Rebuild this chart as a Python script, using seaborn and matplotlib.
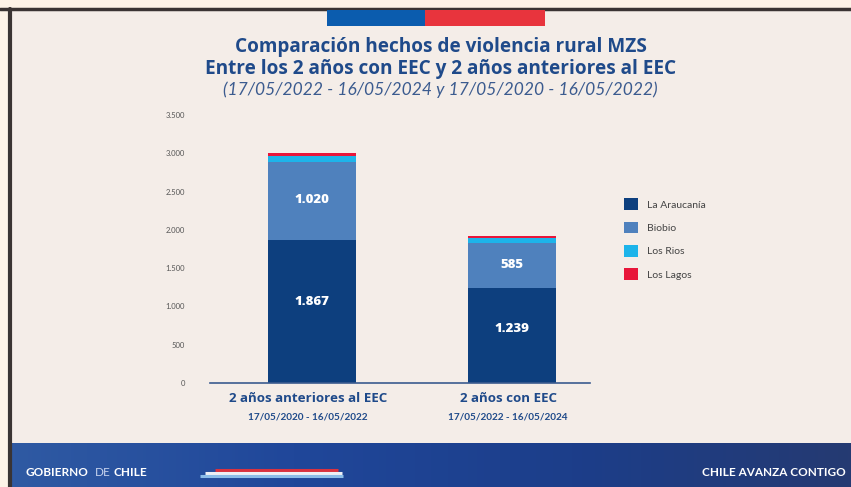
import numpy as np
import pandas as pd
import matplotlib.pyplot as plt
import matplotlib.patches as mpatches
from matplotlib.colors import LinearSegmentedColormap
import seaborn as sns

sns.set_theme(style="white")
plt.rcParams["font.family"] = ["Lato", "DejaVu Sans"]

# data
periods = ["2 años anteriores al EEC", "2 años con EEC"]
period_dates = ["17/05/2020 - 16/05/2022", "17/05/2022 - 16/05/2024"]
regions = ["La Araucanía", "Biobio", "Los Rios", "Los Lagos"]
araucania = [1867, 1239]
biobio = [1020, 585]
los_rios = [82, 65]
los_lagos = [40, 25]
colors = ["#0d3f7e", "#4f81bd", "#1db4ea", "#e8163a"]

W, H = 851, 487
bg = "#f4ede8"
navy = "#1f4a8a"
wide = ["Open Sans", "DejaVu Sans"]

fig = plt.figure(figsize=(W / 100, H / 100), dpi=100)
fig.patch.set_facecolor("#fdf3e7")

# inner panel with dark frame line
fig.add_artist(mpatches.Rectangle((10 / W, 0), 1, (H - 9) / H, transform=fig.transFigure,
                                  facecolor=bg, edgecolor="none", zorder=0))
fig.add_artist(plt.Line2D([0, 1], [(H - 8.5) / H] * 2, transform=fig.transFigure,
                          color="#3a3433", lw=2.5, zorder=1))
fig.add_artist(plt.Line2D([10 / W] * 2, [0, (H - 8.5) / H], transform=fig.transFigure,
                          color="#3a3433", lw=3, zorder=1))

# flag band on top
fig.add_artist(mpatches.Rectangle((327 / W, (H - 26) / H), 98 / W, 16 / H, transform=fig.transFigure,
                                  facecolor="#0b5cae", edgecolor="none"))
fig.add_artist(mpatches.Rectangle((425 / W, (H - 26) / H), 120 / W, 16 / H, transform=fig.transFigure,
                                  facecolor="#e8343d", edgecolor="none"))

# titles
fig.text(441 / W, (H - 47) / H, "Comparación hechos de violencia rural MZS", ha="center", va="center",
         fontsize=13.7, fontweight="bold", color=navy, family=wide)
fig.text(441 / W, (H - 69) / H, "Entre los 2 años con EEC y 2 años anteriores al EEC", ha="center",
         va="center", fontsize=13.7, fontweight="bold", color=navy, family=wide)
fig.text(440 / W, (H - 90) / H, "(17/05/2022 - 16/05/2024 y 17/05/2020 - 16/05/2022)", ha="center",
         va="center", fontsize=12.5, style="italic", color="#3b5b8f")

# chart
ax = fig.add_axes([210 / W, (H - 383) / H, 380 / W, 268 / H])
ax.set_facecolor("none")

df = pd.DataFrame({"periodo": periods, "La Araucanía": araucania, "Biobio": biobio,
                   "Los Rios": los_rios, "Los Lagos": los_lagos})
cum = df[regions].cumsum(axis=1)

# draw from the top layer down so each lower layer covers the previous one
for reg, col in reversed(list(zip(regions, colors))):
    sns.barplot(x=df["periodo"], y=cum[reg], color=col, width=0.44, ax=ax,
                saturation=1, edgecolor="none", linewidth=0)

for i in range(len(periods)):
    ax.text(i, araucania[i] * 0.57, f"{araucania[i]:,}".replace(",", "."), ha="center",
            va="center", color="white", fontsize=9.5, fontweight="heavy", family=wide)
    ax.text(i, araucania[i] + biobio[i] / 2 + 10, f"{biobio[i]:,}".replace(",", "."), ha="center",
            va="center", color="white", fontsize=9.5, fontweight="heavy", family=wide)

ax.set_xlim(-0.51, 1.39)
ax.set_ylim(0, 3500)
yt = np.arange(0, 3501, 500)
ax.set_yticks(yt)
ax.set_yticklabels([f"{v:,}".replace(",", ".") for v in yt], fontsize=5.5, color="#555555")
ax.set_xticks([0, 1])
ax.set_xticklabels([])
ax.tick_params(axis="both", length=0, pad=18)
for s in ["top", "right", "left"]:
    ax.spines[s].set_visible(False)
ax.spines["bottom"].set_color("#3b5b8f")
ax.spines["bottom"].set_linewidth(1.2)
ax.set_xlabel("")
ax.set_ylabel("")

for i, (p, d) in enumerate(zip(periods, period_dates)):
    ax.text(i - 0.02, -0.057, p, transform=ax.get_xaxis_transform(), ha="center", va="center",
            fontsize=9.6, fontweight="bold", color=navy, family=wide)
    ax.text(i - 0.02, -0.128, d, transform=ax.get_xaxis_transform(), ha="center", va="center",
            fontsize=7.2, fontweight="bold", color=navy)

handles = [mpatches.FancyBboxPatch((0, 0), 1, 1, boxstyle="round,pad=0.1", facecolor=c, edgecolor="none")
           for c in colors]
fig.legend(handles, ["La Araucanía", "Biobio", "Los Rios", "Los Lagos"], loc="upper left",
           bbox_to_anchor=(615 / W, (H - 189) / H), frameon=False, fontsize=7.5,
           handlelength=1.35, handleheight=1.35, labelspacing=1.12, handletextpad=0.85,
           labelcolor="#444444")

# footer band
fax = fig.add_axes([12 / W, 0, 1 - 12 / W, 44 / H])
grad = np.linspace(0, 1, 256).reshape(1, -1)
cmap = LinearSegmentedColormap.from_list("foot", ["#2f5aa3", "#20479a", "#1c3e8a", "#253a72"])
fax.imshow(grad, aspect="auto", cmap=cmap, extent=[0, 1, 0, 1])
fax.set_xlim(0, 1)
fax.set_ylim(0, 1)
fax.axis("off")
fig.text(25 / W, 14 / H, "GOBIERNO", fontsize=8.5, fontweight="bold", color="white", va="center")
fig.text(95 / W, 14 / H, "DE", fontsize=8.5, color="#c8d4ee", va="center")
fig.text(114 / W, 14 / H, "CHILE", fontsize=8.5, fontweight="bold", color="white", va="center")
fig.text(846 / W, 14 / H, "CHILE AVANZA CONTIGO", fontsize=8.5, fontweight="bold", color="white",
         va="center", ha="right")
for yy, c, x0, x1 in [(17, "#d9323f", 215, 338), (14, "#eef0f5", 205, 342), (11, "#8cbde8", 200, 343)]:
    fig.add_artist(plt.Line2D([x0 / W, x1 / W], [yy / H] * 2, transform=fig.transFigure,
                              color=c, lw=2.2, solid_capstyle="butt"))

fig.savefig("out.png", dpi=100, facecolor=fig.get_facecolor())
